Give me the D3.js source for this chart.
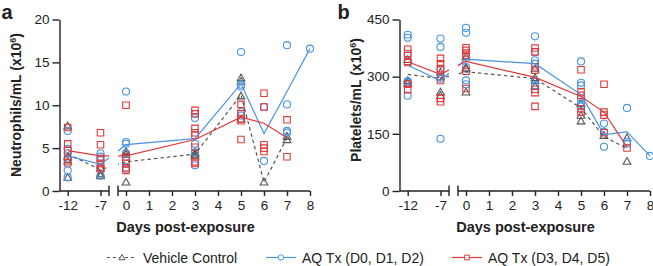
<!DOCTYPE html>
<html><head><meta charset="utf-8">
<script src="https://cdn.jsdelivr.net/npm/d3@7"></script>
<style>
body{margin:0;background:#fff}
text{font-family:Arial,"Liberation Sans",sans-serif;fill:#222}
</style>
</head><body>
<svg id="c" width="653" height="266"></svg>
<script>
// ---------- DATA ----------
const leftDays = [-12, -7];
const rightDays = [0, 1, 2, 3, 4, 5, 6, 7, 8];
const neutTicks = [0, 5, 10, 15, 20];
const platTicks = [0, 150, 300, 450];
const legendLabels = ["Vehicle Control", "AQ Tx (D0, D1, D2)", "AQ Tx (D3, D4, D5)"];

// Panel a: Neutrophils/mL (x10^6)
const neutVehiclePts = [[-12,[7.6,4.0,3.5,1.6]],[-7,[2.7,2.0,1.8]],[0,[4.6,4.3,1.05]],[3,[4.5,4.3,4.1]],[5,[13.2,12.8,11.1,8.4]],[6,[1.05]],[7,[6.4,6.0]]];
const neutEarlyPts   = [[-12,[7.0,4.9,4.4,3.8,2.4,1.6]],[-7,[4.4,4.0,3.6,2.7,1.8]],[0,[11.6,5.7,5.5,4.4,3.6,2.6]],[3,[9.0,8.5,5.5,4.5,3.0]],[5,[16.2,12.4,12.2,9.2,8.8]],[6,[9.8,3.5]],[7,[17.0,10.1,7.0,6.8]],[8,[16.6]]];
const neutLatePts    = [[-12,[7.4,5.5,4.7,3.7,3.3]],[-7,[6.8,5.4,3.8,3.2,2.8,2.6]],[0,[10.0,4.0,3.2,2.7,2.4]],[3,[9.4,9.0,7.3,6.8,6.5,5.1,3.4,3.2]],[5,[10.1,9.0,8.4,8.2,6.0]],[6,[11.4,9.8,5.4,5.0,4.6]],[7,[8.3,4.0]]];
const neutVehicleMean = [[-12,4.3],[-7,2.5],[0,3.4],[3,4.3],[5,11.2],[6,1.0],[7,6.2]];
const neutEarlyMean   = [[-12,4.1],[-7,3.1],[0,5.4],[3,6.1],[5,12.5],[6,6.7],[7,11.6],[8,16.6]];
const neutLateMean    = [[-12,4.7],[-7,4.1],[0,4.1],[3,6.0],[5,8.6],[6,7.9],[7,6.2]];

// Panel b: Platelets/mL (x10^6)
const platVehiclePts = [[-12,[345,290,283]],[-7,[312,300,260,251]],[0,[352,325,321,260]],[3,[321,298,290,276]],[5,[230,199,184]],[6,[146]],[7,[140,78]]];
const platEarlyPts   = [[-12,[410,402,356,288,285,250]],[-7,[400,378,318,295,137]],[0,[428,415,325,290,280]],[3,[406,365,343,334,290,277]],[5,[340,284,277,243,229,222]],[6,[177,155,116]],[7,[218,129,124]],[8,[92]]];
const platLatePts    = [[-12,[372,361,340,337,280,266]],[-7,[348,334,321,290,243,234]],[0,[376,369,362,356,314,269]],[3,[375,365,326,317,267,258,222]],[5,[318,260,251,216,207]],[6,[280,207,199,153]],[7,[113]]];
const platVehicleMean = [[-12,306],[-7,295],[0,313],[3,295],[5,218],[6,142],[7,112]];
const platEarlyMean   = [[-12,330],[-7,290],[0,346],[3,334],[5,253],[6,148],[7,155],[8,92]];
const platLateMean    = [[-12,339],[-7,306],[0,340],[3,298],[5,248],[6,207],[7,115]];

// ---------- STYLE ----------
const GRAY = "#555", BLUE = "#4a95e0", RED = "#e2393a", AX = "#222";
const svg = d3.select("#c");

function markerPath(kind){
  if(kind==="tri") return d3.symbol().type(d3.symbolTriangle).size(26)();
  if(kind==="circ") return d3.symbol().type(d3.symbolCircle).size(40)();
  return d3.symbol().type(d3.symbolSquare).size(42)();
}

function panel(id, ox, ymax, yticks, title, letter, series){
  const g = svg.append("g");
  const x = d3.scaleLinear().domain([-12,-7,0,8]).range([ox+8.2, ox+41, ox+66.5, ox+250.5]);
  const y = d3.scaleLinear().domain([0,ymax]).range([191,19.5]);
  const breakL = ox+49.5, breakR = ox+58.5;

  // clip for lines (gap in axis break)
  const cp = svg.append("clipPath").attr("id","clip"+id);
  cp.append("rect").attr("x",ox).attr("y",0).attr("width",breakL-ox).attr("height",200);
  cp.append("rect").attr("x",breakR).attr("y",0).attr("width",260).attr("height",200);

  // markers
  series.forEach(s=>{
    const pts = [];
    s.pts.forEach(([d,vals])=>vals.forEach(v=>pts.push([d,v])));
    g.append("g").selectAll("path").data(pts).join("path")
      .attr("d", markerPath(s.kind))
      .attr("transform", d=>`translate(${x(d[0])},${y(d[1])+(s.kind==="tri"?0.8:0)})`)
      .attr("fill","none").attr("stroke",s.color).attr("stroke-width",1.1);
  });
  // mean lines
  const line = d3.line().x(d=>x(d[0])).y(d=>y(d[1]));
  series.forEach(s=>{
    g.append("path").datum(s.mean).attr("d",line)
      .attr("clip-path",`url(#clip${id})`)
      .attr("fill","none").attr("stroke",s.color).attr("stroke-width",1.2)
      .attr("stroke-dasharray", s.dash ? "3.5,3" : null);
  });

  // y axis
  const ya = g.append("g").attr("transform",`translate(${ox},0)`)
    .call(d3.axisLeft(y).tickValues(yticks).tickSize(7).tickPadding(3).tickSizeOuter(0));
  ya.select(".domain").attr("stroke",AX).attr("stroke-width",1.4);
  ya.selectAll(".tick line").attr("stroke",AX).attr("stroke-width",1.4);
  ya.selectAll("text").style("font-size","13.5px").attr("fill","#222");

  // x axes (two segments)
  const xl = g.append("g").attr("transform","translate(0,191)")
    .call(d3.axisBottom(x).tickValues(leftDays).tickSize(5).tickPadding(4).tickFormat(d3.format("d")));
  const xr = g.append("g").attr("transform","translate(0,191)")
    .call(d3.axisBottom(x).tickValues(rightDays).tickSize(5).tickPadding(4).tickFormat(d3.format("d")));
  [xl,xr].forEach(a=>{
    a.select(".domain").remove();
    a.selectAll(".tick line").attr("stroke",AX).attr("stroke-width",1.4);
    a.selectAll("text").style("font-size","13.5px").attr("fill","#222");
  });
  xl.selectAll("text").text(d=>"-"+Math.abs(d));
  g.append("line").attr("x1",ox).attr("x2",breakL).attr("y1",191).attr("y2",191).attr("stroke",AX).attr("stroke-width",1.4);
  g.append("line").attr("x1",breakR).attr("x2",ox+250.5).attr("y1",191).attr("y2",191).attr("stroke",AX).attr("stroke-width",1.4);
  [breakL,breakR].forEach(bx=>g.append("line").attr("x1",bx).attr("x2",bx).attr("y1",185.5).attr("y2",196).attr("stroke",AX).attr("stroke-width",1.4));

  // titles
  g.append("text").attr("x",ox+126).attr("y",231.5).attr("text-anchor","middle")
    .style("font-size","14.5px").style("font-weight","bold").text("Days post-exposure");
  const yt = g.append("text").attr("transform",`translate(${ox-39},${ox<100?105:100}) rotate(-90)`)
    .attr("text-anchor","middle").style("font-size","14px").style("font-weight","bold");
  yt.append("tspan").text(title+" (x10");
  yt.append("tspan").attr("dy",-5).style("font-size","9px").text("6");
  yt.append("tspan").attr("dy",5).text(")");
  g.append("text").attr("x",ox-(ox<100?58:62)).attr("y",18.5).style("font-size","20px").style("font-weight","bold").text(letter);
}

panel("a", 59.5, 20, neutTicks, "Neutrophils/mL", "a", [
  {pts:neutVehiclePts, mean:neutVehicleMean, color:GRAY, kind:"tri", dash:true},
  {pts:neutEarlyPts, mean:neutEarlyMean, color:BLUE, kind:"circ"},
  {pts:neutLatePts, mean:neutLateMean, color:RED, kind:"sq"}
]);
panel("b", 399.5, 450, platTicks, "Platelets/mL", "b", [
  {pts:platVehiclePts, mean:platVehicleMean, color:GRAY, kind:"tri", dash:true},
  {pts:platEarlyPts, mean:platEarlyMean, color:BLUE, kind:"circ"},
  {pts:platLatePts, mean:platLateMean, color:RED, kind:"sq"}
]);

// legend
const legend = [
  {x:107, label:legendLabels[0], color:GRAY, kind:"tri", dash:true},
  {x:266, label:legendLabels[1], color:BLUE, kind:"circ"},
  {x:452, label:legendLabels[2], color:RED, kind:"sq"}
];
const lg = svg.append("g").selectAll("g").data(legend).join("g")
  .attr("transform",d=>`translate(${d.x},257.5)`);
lg.append("line").attr("x1",0).attr("x2",30).attr("y1",0).attr("y2",0)
  .attr("stroke",d=>d.color).attr("stroke-width",1.2).attr("stroke-dasharray",d=>d.dash?"3,3":null);
lg.append("path").attr("d",d=>d3.symbol().type(d.kind==="tri"?d3.symbolTriangle:d.kind==="circ"?d3.symbolCircle:d3.symbolSquare).size(d.kind==="tri"?16:22)())
  .attr("transform",d=>`translate(15,${d.kind==="tri"?0.5:0})`).attr("fill","#fff").attr("stroke",d=>d.color).attr("stroke-width",1);
lg.append("text").attr("x",36).attr("y",5).style("font-size","14px").text(d=>d.label);
</script>
</body></html>
